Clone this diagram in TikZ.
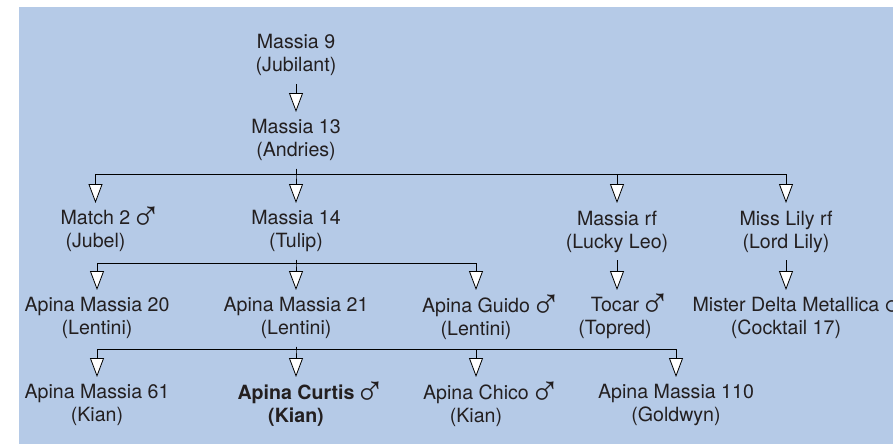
\documentclass[tikz,border=0pt]{standalone}
\usepackage{fontspec}
\setmainfont{TeX Gyre Heros}
\newfontfamily\symfont{Liberation Sans}
\usetikzlibrary{arrows.meta}
\definecolor{bg}{RGB}{181,202,231}
\definecolor{txt}{RGB}{35,31,32}
\newcommand{\male}{\rlap{\kern0.5pt\smash{\raisebox{-6pt}{\symfont\mdseries\fontsize{42}{23}\selectfont ♂}}}}
\begin{document}
\begin{tikzpicture}
	[x=1pt,y=-1pt,
	every node/.style={font=\fontsize{19.6}{23}\selectfont,align=center,anchor=north,inner ysep=7.5pt,text=txt},
	link/.style={draw=black,line width=0.8pt,-{Triangle[width=14pt,length=19pt,fill=white]}}]
	\useasboundingbox (0,0) rectangle (893,444);
	\fill[bg] (19,7) rectangle (893,444);
	% generations
	\node (m9) at (296,27) {Massia 9\\(Jubilant)};
	\node (m13) at (296,112) {Massia 13\\(Andries)};
	\node (match) at (95.5,203) {Match 2\male\\(Jubel)};
	\node (m14) at (296,203) {Massia 14\\(Tulip)};
	\node (mrf) at (617,203) {Massia rf\\(Lucky Leo)};
	\node (lily) at (786,203) {Miss Lily rf\\(Lord Lily)};
	\node (am20) at (97,290) {Apina Massia 20\\(Lentini)};
	\node (am21) at (296,290) {Apina Massia 21\\(Lentini)};
	\node (guido) at (476,290) {Apina Guido\male\\(Lentini)};
	\node (tocar) at (615,290) {Tocar\male\\(Topred)};
	\node (mister) at (786,290) {Mister Delta Metallica\male\\(Cocktail 17)};
	\node (am61) at (97,377) {Apina Massia 61\\(Kian)};
	\node[font=\fontsize{19.6}{23}\selectfont\bfseries] (curtis) at (296,377) {Apina Curtis\male\\(Kian)};
	\node (chico) at (476,377) {Apina Chico\male\\(Kian)};
	\node (am110) at (676,377) {Apina Massia 110\\(Goldwyn)};
	% bus lines
	\coordinate (bus13) at (296,174);
	\coordinate (bus14) at (296,263);
	\coordinate (bus21) at (296,349);
	% connectors
	\draw[link] (m9.south) -- (m13.north);
	\foreach \kid in {match,m14,mrf,lily}
		\draw[link] (m13.south) -- (bus13) -| (\kid.north);
	\foreach \kid in {am20,am21,guido}
		\draw[link] (m14.south) -- (bus14) -| (\kid.north);
	\foreach \kid in {am61,curtis,chico,am110}
		\draw[link] (am21.south) -- (bus21) -| (\kid.north);
	\draw[link] (mrf.south) -- (mrf.south |- tocar.north);
	\draw[link] (lily.south) -- (mister.north);
\end{tikzpicture}
\end{document}
